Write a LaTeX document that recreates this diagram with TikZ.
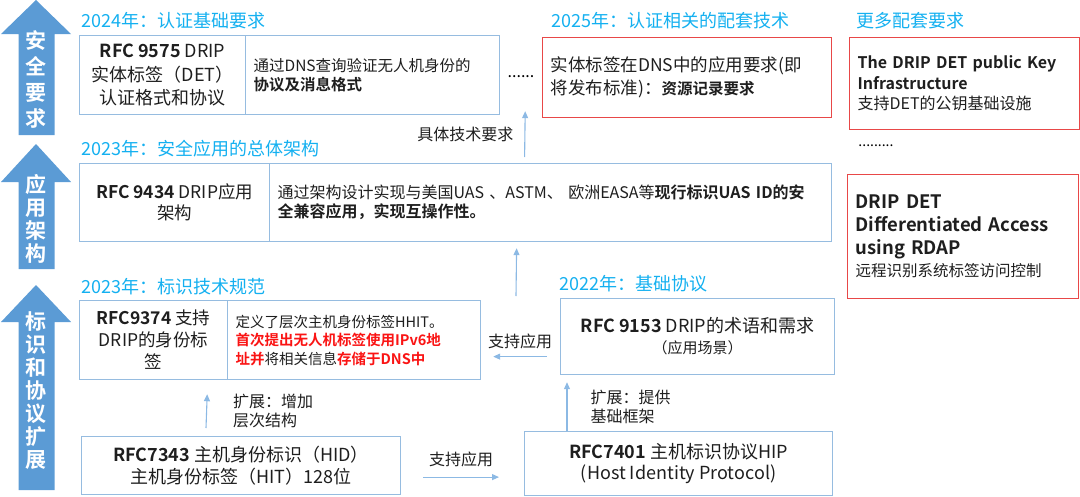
\documentclass[tikz,border=0pt]{standalone}
\usepackage{fontspec}
\setmainfont{Noto Sans CJK SC}[BoldFont={Noto Sans CJK SC Bold}]
\usetikzlibrary{arrows.meta}
\definecolor{boxblue}{RGB}{150,188,224}
\definecolor{arrowblue}{RGB}{91,155,213}
\definecolor{titleblue}{RGB}{20,176,240}
\definecolor{boxred}{RGB}{232,72,72}
\definecolor{textred}{RGB}{250,20,20}
\definecolor{linkblue}{RGB}{140,185,228}
\definecolor{textdark}{RGB}{30,30,30}
\newcommand\fsz[2]{\fontsize{#1}{#2}\selectfont}

\tikzset{
  cell/.style={draw=boxblue,line width=1.2pt,anchor=north west,inner xsep=8pt,inner ysep=0pt,text=textdark},
  redcell/.style={cell,draw=boxred},
  yeartitle/.style={anchor=west,inner sep=0pt,text=titleblue,font=\fsz{18}{22}},
  sidetext/.style={align=center,inner sep=0pt,text=white,font=\bfseries\fsz{21}{23}},
  link/.style={draw=linkblue,line width=1.1pt,-{Triangle[length=7pt,width=6pt]}},
  linklabel/.style={inner sep=0pt,align=left,text=textdark,font=\fsz{16}{19}},
}

\begin{document}
\begin{tikzpicture}[x=1pt,y=-1pt]
\useasboundingbox (0,0) rectangle (1080,496);

% big arrows on the left
\foreach \tip/\base/\bot in {0/34/135,144/182/269,285/322/490}{
  \fill[arrowblue] (36,\tip) -- (71,\base) -- (54.5,\base) -- (54.5,\bot)
    -- (18.5,\bot) -- (18.5,\base) -- (1,\base) -- cycle;
}
\node[sidetext,font=\bfseries\fsz{21}{26}] (side1) at (36,79) {安\\全\\要\\求};
\node[sidetext] (side2) at (36,219) {应\\用\\架\\构};
\node[sidetext] (side3) at (36,391) {标\\识\\和\\协\\议\\扩\\展};

% titles
\node[yeartitle] (t2024) at (81,21) {2024年：认证基础要求};
\node[yeartitle] (t2025) at (551,21) {2025年：认证相关的配套技术};
\node[yeartitle] (tmore) at (856,21) {更多配套要求};
\node[yeartitle] (t2023a) at (81,149) {2023年：安全应用的总体架构};
\node[yeartitle] (t2023b) at (81,287) {2023年：标识技术规范};
\node[yeartitle] (t2022) at (559,284) {2022年：基础协议};

% row 1
\node[cell,minimum width=166,minimum height=79,align=center,font=\fsz{18}{23.5}] (b9575l) at (79,35)
  {\textbf{RFC 9575} DRIP\\实体标签（DET）\\认证格式和协议};
\node[cell,minimum width=254,minimum height=79,text width=238,align=left,font=\fsz{15.5}{19}] (b9575r) at (245,35)
  {通过DNS查询验证无人机身份的\\\textbf{协议及消息格式}};
\node[inner sep=0pt,font=\fsz{16}{19}] (dots1) at (521,77) {......};
\node[redcell,minimum width=289,minimum height=80,text width=273,align=left,font=\fsz{17.5}{23}] (cfg2025) at (542,37)
  {实体标签在DNS中的应用要求(即\\将发布标准)：{\fsz{15.5}{23}\textbf{资源记录要求}}};
\node[redcell,minimum width=230,minimum height=92,text width=214,align=left,font=\fsz{16}{20.5}] (pki) at (849,37)
  {\textbf{The DRIP DET public Key}\\\textbf{Infrastructure}\\支持DET的公钥基础设施};
\node[inner sep=0pt,font=\fsz{14}{17}] (dots2) at (876,146) {.........};
\node[redcell,minimum width=231,minimum height=124,text width=215,align=left,font=\fsz{18.5}{22.6}] (rdap) at (847,174)
  {\textbf{DRIP DET}\\\textbf{Differentiated Access}\\\textbf{using RDAP}\\{\fsz{15.5}{22.6}远程识别系统标签访问控制}};

% row 2
\node[cell,minimum width=190,minimum height=78,align=center,font=\fsz{17.5}{21}] (b9434l) at (79,163)
  {\textbf{RFC 9434} DRIP应用\\架构};
\node[cell,minimum width=562,minimum height=78,text width=546,align=left,font=\fsz{16}{19}] (b9434r) at (269,163)
  {通过架构设计实现与美国UAS 、ASTM、 欧洲EASA等\textbf{现行标识UAS ID的安}\\\textbf{全兼容应用，实现互操作性。}};

% row 3
\node[cell,minimum width=148,minimum height=79,align=center,font=\fsz{17.5}{22}] (b9374l) at (79,300)
  {\textbf{RFC9374} 支持\\DRIP的身份标\\签};
\node[cell,minimum width=253,minimum height=79,text width=237,align=left,font=\fsz{14.5}{18.5}] (b9374r) at (227,300)
  {定义了层次主机身份标签HHIT。\\\textcolor{textred}{\textbf{首次提出无人机标签使用IPv6地}}\\\textcolor{textred}{\textbf{址并}}将相关信息\textcolor{textred}{\textbf{存储于DNS中}}};
\node[cell,minimum width=274,minimum height=76,align=center,font=\fsz{18}{21}] (b9153) at (560,298)
  {\textbf{RFC 9153} DRIP的术语和需求\\{\fsz{15}{21}（应用场景）}};

% row 4
\node[cell,minimum width=319,minimum height=58,align=center,font=\fsz{18}{22}] (b7343) at (81,436)
  {\textbf{RFC7343} 主机身份标识（HID）\\主机身份标签（HIT）128位};
\node[cell,minimum width=308,minimum height=64,align=center,font=\fsz{18}{21}] (b7401) at (524,431)
  {\textbf{RFC7401} 主机标识协议HIP\\(Host Identity Protocol)};

% connectors
\draw[link] ([xshift=-26pt,yshift=6pt]b9434r.north) -- ([xshift=25pt,yshift=4pt]b9575r.south east)
  node[midway,left=11pt,linklabel] {具体技术要求};
\draw[link] ([xshift=-44pt,yshift=2pt]b9153.north west) -- ([xshift=-34pt,yshift=-6pt]b9434r.south);
\draw[link] ([xshift=-13pt,yshift=-20pt]b9153.west) -- ([xshift=12pt,yshift=-16.5pt]b9374r.east)
  node[midway,above=7pt,linklabel] {支持应用};
\draw[link] ([xshift=125pt,yshift=8pt]b7343.north west) -- ([xshift=-21pt,yshift=-14pt]b9374l.south east)
  node[midway,right=26pt,linklabel] {扩展：增加\\层次结构};
\draw[link] ([xshift=22pt,yshift=-11.5pt]b7343.east) -- ([xshift=-25pt,yshift=-13.5pt]b7401.west)
  node[midway,above=10pt,linklabel] {支持应用};
\draw[link] ([xshift=43pt]b7401.north west) -- ([xshift=7pt,yshift=-7pt]b9153.south west)
  node[midway,right=23pt,linklabel] {扩展：提供\\基础框架};
\end{tikzpicture}
\end{document}
